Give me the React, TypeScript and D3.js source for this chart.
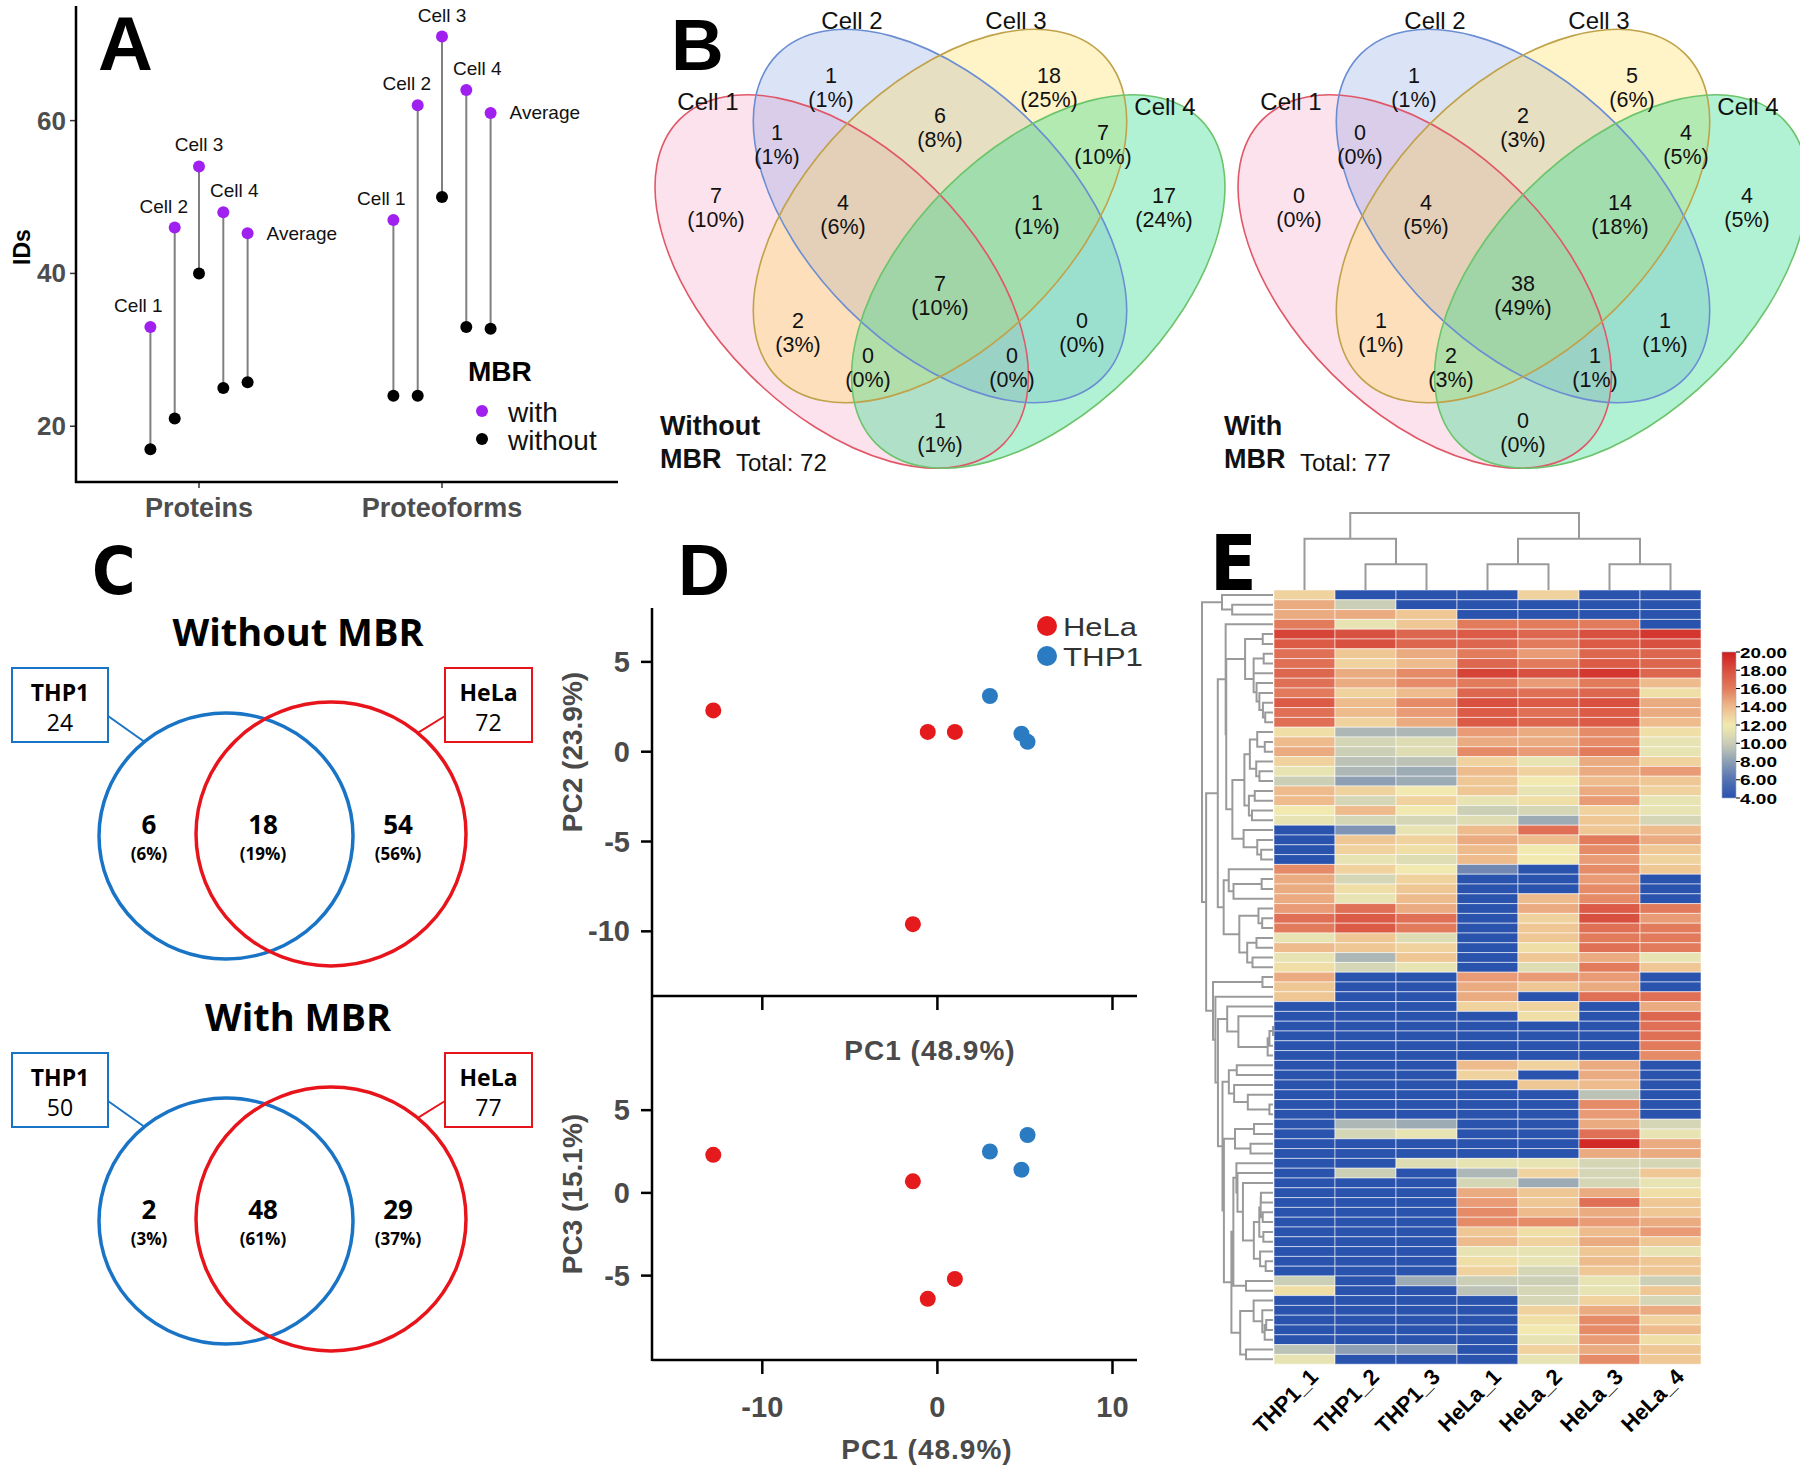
import React, { useMemo } from 'react';
import * as d3 from 'd3';

const W = 1800, H = 1470;
const ARIAL = "'Liberation Sans', Arial, Helvetica, sans-serif";
const OPEN = "'Open Sans', 'Noto Sans', 'DejaVu Sans', sans-serif";
const COND = "'DejaVu Sans Condensed', 'Liberation Sans Narrow', 'Liberation Sans', sans-serif";

// ---------------- Panel A data ----------------
const aCells = ['Cell 1', 'Cell 2', 'Cell 3', 'Cell 4', 'Average'];
const aTypes = ['Proteins', 'Proteoforms'];
const aWith = [[33, 46, 54, 48, 45.25], [47, 62, 71, 64, 61]];
const aWithout = [[17, 21, 40, 25, 25.75], [24, 24, 50, 33, 32.75]];
const aTicks = [20, 40, 60];
const aLegend = ['with', 'without'];

// ---------------- Panel B data ----------------
const bSets = ['Cell 1', 'Cell 2', 'Cell 3', 'Cell 4'];
const bRegions = ['1', '2', '3', '4', '12', '23', '34', '123', '234', '1234', '13', '134', '124', '24', '14'];
const bWithout = [7, 1, 18, 17, 1, 6, 7, 4, 1, 7, 2, 0, 0, 0, 1];
const bWith = [0, 1, 5, 4, 0, 2, 4, 4, 14, 38, 1, 2, 1, 1, 0];
const bTitles = ['Without', 'With'];

// ---------------- Panel C data ----------------
const cTitles = ['Without MBR', 'With MBR'];
const cTHP1Total = [24, 50];
const cHeLaTotal = [72, 77];
const cTHP1Only = [6, 2];
const cShared = [18, 48];
const cHeLaOnly = [54, 29];
const cTHP1OnlyPct = [6, 3];
const cSharedPct = [19, 61];
const cHeLaOnlyPct = [56, 37];

// ---------------- Panel D data ----------------
const dGroups = ['HeLa', 'HeLa', 'HeLa', 'HeLa', 'THP1', 'THP1', 'THP1'];
const dPC1 = [-12.8, -1.4, -0.55, 1.0, 3.0, 4.8, 5.15];
const dPC2 = [2.3, -9.6, 1.1, 1.1, 3.1, 1.0, 0.55];
const dPC3 = [2.3, 0.7, -6.4, -5.2, 2.5, 1.4, 3.5];
const dTicksX = [-10, 0, 10];
const dTicksTop = [5, 0, -5, -10];
const dTicksBot = [5, 0, -5];
const dLegend = ['HeLa', 'THP1'];

// ---------------- Panel E data ----------------
const eSamples = ['THP1_1', 'THP1_2', 'THP1_3', 'HeLa_1', 'HeLa_2', 'HeLa_3', 'HeLa_4'];
const eColTree: any = [[0, [1, 2]], [[3, 4], [5, 6]]];
const eLegendTicks = [20, 18, 16, 14, 12, 10, 8, 6, 4];
const eValues = [
  [13, 4, 4, 4, 13, 4, 4],
  [14.5, 10, 4, 4, 4, 4, 4],
  [14.5, 14.5, 13.5, 4, 4, 4, 4],
  [16, 11.5, 13.5, 16, 16, 16, 4],
  [18.5, 18, 17, 17.5, 17, 18, 19],
  [17.5, 18, 17, 17, 16, 17.5, 18],
  [16.5, 13.5, 14.5, 16, 15, 17, 17],
  [16.5, 13, 14, 17, 16, 17.5, 17],
  [17, 14.5, 15.5, 18.5, 18, 19, 17],
  [16.5, 14.5, 15.5, 16, 15, 16, 14],
  [16, 13, 14, 17, 16.5, 17, 12.5],
  [17.5, 14, 15.5, 18, 17.5, 18, 14.5],
  [16.5, 14, 15, 17.5, 16.5, 17.5, 14.5],
  [16.5, 13, 14.5, 17.5, 17, 17.5, 14],
  [12.5, 9, 9, 15, 14.5, 15.5, 12.5],
  [14, 10.5, 11, 14.5, 14.5, 15.5, 11.5],
  [14.5, 10, 11, 15.5, 15, 16, 11.5],
  [13, 9.5, 9.5, 13, 11.5, 14.5, 13],
  [11.5, 9, 8.5, 14, 13, 14.5, 15],
  [10, 8, 8.5, 13.5, 12, 14, 13.5],
  [14, 13, 12, 13.5, 11.5, 14.5, 13],
  [14, 10.5, 13, 11.5, 12.5, 15, 11.5],
  [12, 14, 12, 10, 10.5, 13, 11.5],
  [11.5, 10.5, 10.5, 11, 8.5, 13.5, 10.5],
  [4, 7.5, 11.5, 14, 16.5, 13.5, 14],
  [4, 13.5, 13, 14.5, 14, 16, 14.5],
  [4, 13, 12.5, 14, 12, 15.5, 13.5],
  [4, 11.5, 11, 14, 12, 15, 13],
  [15.5, 13, 12, 7, 4, 15.5, 13.5],
  [14.5, 10.5, 13, 4, 4, 15, 4],
  [14.5, 12.5, 13.5, 4, 4, 15.5, 4],
  [14.5, 11.5, 14, 4, 14, 15.5, 4],
  [15, 16.5, 14.5, 4, 14.5, 17.5, 16],
  [16.5, 17.5, 16.5, 4, 13, 18, 15],
  [16, 17.5, 16, 4, 13.5, 16.5, 16],
  [11.5, 13.5, 11, 4, 13.5, 16, 16],
  [14, 13.5, 13, 4, 12.5, 16.5, 16],
  [11.5, 9, 13.5, 4, 13.5, 14.5, 11.5],
  [12.5, 10.5, 11.5, 4, 11, 16, 13.5],
  [14.5, 4, 4, 15, 15, 15, 4],
  [13.5, 4, 4, 14.5, 13.5, 14.5, 4],
  [13.5, 4, 4, 14.5, 4, 16.5, 16.5],
  [4, 4, 4, 13, 13, 4, 14.5],
  [4, 4, 4, 4, 12.5, 4, 17],
  [4, 4, 4, 4, 4, 4, 16.5],
  [4, 4, 4, 4, 4, 4, 16.5],
  [4, 4, 4, 4, 4, 4, 16],
  [4, 4, 4, 4, 4, 4, 15.5],
  [4, 4, 4, 14, 13, 14.5, 4],
  [4, 4, 4, 13, 4, 14.5, 4],
  [4, 4, 4, 4, 13.5, 14, 4],
  [4, 4, 4, 4, 4, 9.5, 4],
  [4, 4, 4, 4, 4, 15.5, 4],
  [4, 4, 4, 4, 4, 15, 4],
  [4, 9, 8.5, 4, 4, 14.5, 10.5],
  [4, 10.5, 11.5, 4, 4, 16.5, 11.5],
  [4, 4, 4, 4, 4, 19.5, 14.5],
  [4, 4, 4, 4, 4, 14.5, 14.5],
  [4, 4, 11, 11.5, 11.5, 10.5, 10.5],
  [4, 10, 4, 9, 13, 10.5, 13.5],
  [4, 4, 4, 10.5, 8.5, 10.5, 11.5],
  [4, 4, 4, 14.5, 13.5, 14.5, 12.5],
  [4, 4, 4, 15, 13.5, 16.5, 13.5],
  [4, 4, 4, 15.5, 14, 14.5, 13.5],
  [4, 4, 4, 15.5, 15.5, 15, 14.5],
  [4, 4, 4, 13.5, 12.5, 14, 15],
  [4, 4, 4, 14, 13, 14.5, 13.5],
  [4, 4, 4, 11.5, 11.5, 13.5, 11.5],
  [4, 4, 4, 12.5, 11.5, 14, 13.5],
  [4, 4, 4, 13, 10.5, 13.5, 13.5],
  [10, 4, 8.5, 10, 10, 11.5, 10],
  [12.5, 4, 4, 9.5, 10.5, 11.5, 13.5],
  [4, 4, 4, 4, 10.5, 13, 10.5],
  [4, 4, 4, 4, 13, 14.5, 14.5],
  [4, 4, 4, 4, 12.5, 15.5, 13],
  [4, 4, 4, 4, 12, 15.5, 14],
  [4, 4, 4, 4, 11.5, 15, 12.5],
  [9.5, 8, 8, 4, 13, 14.5, 13.5],
  [11.5, 4, 4, 4, 11.5, 15.5, 13.5],
];

// ---------------- helpers ----------------
type RNode = { lo: number; hi: number; h: number; y: number; members: number[]; children?: RNode[] };

function clusterRows(data: number[][], yOf: (i: number) => number): RNode {
  const D = data.map(a => data.map(b => Math.sqrt(d3.sum(a.map((v, k) => (v - b[k]) ** 2)))));
  const nodes: RNode[] = data.map((_, i) => ({ lo: i, hi: i, h: 0, y: yOf(i), members: [i] }));
  const link = (A: RNode, B: RNode) => d3.mean(A.members.flatMap(i => B.members.map(j => D[i][j]))) as number;
  while (nodes.length > 1) {
    let best = 0, bestD = Infinity;
    for (let i = 0; i < nodes.length - 1; i++) {
      const d = link(nodes[i], nodes[i + 1]);
      if (d < bestD) { bestD = d; best = i; }
    }
    const A = nodes[best], B = nodes[best + 1];
    const N: RNode = { lo: A.lo, hi: B.hi, h: Math.max(bestD, A.h, B.h), y: (A.y + B.y) / 2, members: [...A.members, ...B.members], children: [A, B] };
    nodes.splice(best, 2, N);
  }
  return nodes[0];
}

function PanelA() {
  const yA = d3.scaleLinear().domain([12.7, 75]).range([482, 6]);
  const xA = d3.scalePoint<string>().domain(aTypes).range([199, 442]);
  const dA = d3.scalePoint<string>().domain(aCells).range([-48.6, 48.6]);
  const labelDx: Record<string, number> = { 'Cell 1': -12, 'Cell 2': -11, 'Cell 3': 0, 'Cell 4': 11 };
  const purple = '#a020f0';
  return (
    <g>
      <text x={98} y={70} fontFamily={ARIAL} fontWeight="bold" fontSize={76}>A</text>
      {aTicks.map(t => (
        <g key={t}>
          <line x1={70} x2={76} y1={yA(t)} y2={yA(t)} stroke="#333" strokeWidth={1.5} />
          <text x={66} y={yA(t)} textAnchor="end" dominantBaseline="central" fontFamily={ARIAL} fontWeight="bold" fontSize={26} fill="#4d4d4d">{t}</text>
        </g>
      ))}
      {aTypes.map(t => (
        <g key={t}>
          <line x1={xA(t)} x2={xA(t)} y1={482} y2={488} stroke="#333" strokeWidth={1.5} />
          <text x={xA(t)} y={508} textAnchor="middle" dominantBaseline="central" fontFamily={ARIAL} fontWeight="bold" fontSize={27} fill="#4d4d4d">{t}</text>
        </g>
      ))}
      <text transform="translate(22,247) rotate(-90)" textAnchor="middle" dominantBaseline="central" fontFamily={ARIAL} fontWeight="bold" fontSize={23}>IDs</text>
      {aTypes.map((t, i) => aCells.map((c, j) => {
        const x = (xA(t) as number) + (dA(c) as number);
        const yw = yA(aWith[i][j]), yo = yA(aWithout[i][j]);
        return (
          <g key={t + c}>
            <line x1={x} x2={x} y1={yw} y2={yo} stroke="#808080" strokeWidth={2} />
            <circle cx={x} cy={yw} r={6} fill={purple} />
            <circle cx={x} cy={yo} r={6} fill="#000" />
            {c === 'Average'
              ? <text x={x + 19} y={yw} dominantBaseline="central" fontFamily={ARIAL} fontSize={19} fill="#111">{c}</text>
              : <text x={x + labelDx[c]} y={yw - 15} textAnchor="middle" fontFamily={ARIAL} fontSize={19} fill="#111">{c}</text>}
          </g>
        );
      }))}
      <line x1={76} x2={76} y1={6} y2={483} stroke="#000" strokeWidth={2.5} />
      <line x1={75} x2={618} y1={482} y2={482} stroke="#000" strokeWidth={2.5} />
      <text x={468} y={371} dominantBaseline="central" fontFamily={ARIAL} fontWeight="bold" fontSize={28}>MBR</text>
      {aLegend.map((l, i) => (
        <g key={l}>
          <circle cx={482} cy={411 + i * 28} r={6} fill={i === 0 ? purple : '#000'} />
          <text x={508} y={412 + i * 28} dominantBaseline="central" fontFamily={ARIAL} fontSize={28} fill="#111">{l}</text>
        </g>
      ))}
    </g>
  );
}

const bFill = ['#f07aa8', '#6f8fe0', '#ffd84a', '#2fdc8a'];
const bFillOp = [0.22, 0.25, 0.3, 0.37];
const bStroke = ['#e05868', '#6b8ed2', '#c0a24a', '#6cc46c'];
const bLabelOff: Record<string, [number, number]> = {
  '1': [-224, -20], '2': [-109, -140], '3': [109, -140], '4': [224, -20],
  '12': [-163, -83], '23': [0, -100], '34': [163, -83],
  '123': [-97, -13], '234': [97, -13], '1234': [0, 68],
  '13': [-142, 105], '24': [142, 105], '134': [-72, 140], '124': [72, 140], '14': [0, 205],
};
const bSetLabelOff: [number, number][] = [[-232, -115], [-88, -196], [76, -196], [225, -110]];

function Venn4({ cx, cy, values, title, titleX }: { cx: number; cy: number; values: number[]; title: string; titleX: number }) {
  const U = 655;
  const a = 0.35 * U, b = 0.2 * U;
  const centers: [number, number, number][] = [
    [cx - 0.15 * U, cy + 0.1 * U, 45],
    [cx, cy, 45],
    [cx, cy, -45],
    [cx + 0.15 * U, cy + 0.1 * U, -45],
  ];
  const total = d3.sum(values);
  return (
    <g>
      {centers.map(([x, y, r], i) => (
        <ellipse key={'f' + i} cx={x} cy={y} rx={a} ry={b} transform={`rotate(${r} ${x} ${y})`} fill={bFill[i]} fillOpacity={bFillOp[i]} stroke="none" />
      ))}
      {centers.map(([x, y, r], i) => (
        <ellipse key={'s' + i} cx={x} cy={y} rx={a} ry={b} transform={`rotate(${r} ${x} ${y})`} fill="none" stroke={bStroke[i]} strokeWidth={1.6} />
      ))}
      {bSets.map((s, i) => (
        <text key={s} x={cx + bSetLabelOff[i][0]} y={cy + bSetLabelOff[i][1]} textAnchor="middle" dominantBaseline="central" fontFamily={ARIAL} fontSize={24} fill="#111">{s}</text>
      ))}
      {bRegions.map((r, i) => {
        const [dx, dy] = bLabelOff[r];
        return (
          <g key={r}>
            <text x={cx + dx} y={cy + dy} textAnchor="middle" dominantBaseline="central" fontFamily={ARIAL} fontSize={21.5} fill="#111">{values[i]}</text>
            <text x={cx + dx} y={cy + dy + 24} textAnchor="middle" dominantBaseline="central" fontFamily={ARIAL} fontSize={21.5} fill="#111">({Math.round(values[i] / total * 100)}%)</text>
          </g>
        );
      })}
      <text x={titleX} y={426} dominantBaseline="central" fontFamily={ARIAL} fontWeight="bold" fontSize={27} fill="#111">{title}</text>
      <text x={titleX} y={459} dominantBaseline="central" fontFamily={ARIAL} fontWeight="bold" fontSize={27} fill="#111">MBR</text>
      <text x={titleX + 76} y={462} dominantBaseline="central" fontFamily={ARIAL} fontSize={24} fill="#111">Total: {total}</text>
    </g>
  );
}

function PanelC() {
  const blue = '#1a74c6', red = '#e8141c';
  const bc = { x: 226, y: 836, rx: 127, ry: 123 };
  const rc = { x: 331, y: 834, rx: 135, ry: 132 };
  const onEll = (e: any, deg: number) => [e.x + e.rx * Math.cos(deg * Math.PI / 180), e.y + e.ry * Math.sin(deg * Math.PI / 180)];
  const bEnd = onEll(bc, -130), rEnd = onEll(rc, -50);
  return (
    <g>
      <text x={92} y={594} fontFamily={COND} fontWeight="bold" fontSize={66}>C</text>
      {cTitles.map((t, i) => {
        const oy = i * 385;
        const regions = [
          { x: 149, v: cTHP1Only[i], p: cTHP1OnlyPct[i] },
          { x: 263, v: cShared[i], p: cSharedPct[i] },
          { x: 398, v: cHeLaOnly[i], p: cHeLaOnlyPct[i] },
        ];
        return (
          <g key={t}>
            <text x={298} y={631 + oy} textAnchor="middle" dominantBaseline="central" fontFamily={OPEN} fontWeight="bold" fontSize={38} fill="#000">{t}</text>
            <ellipse cx={bc.x} cy={bc.y + oy} rx={bc.rx} ry={bc.ry} fill="none" stroke={blue} strokeWidth={3.5} />
            <ellipse cx={rc.x} cy={rc.y + oy} rx={rc.rx} ry={rc.ry} fill="none" stroke={red} strokeWidth={3.5} />
            <rect x={12} y={668 + oy} width={96} height={74} fill="#fff" stroke={blue} strokeWidth={2} />
            <line x1={108} y1={716 + oy} x2={bEnd[0]} y2={bEnd[1] + oy} stroke={blue} strokeWidth={2} />
            <text x={60} y={692 + oy} textAnchor="middle" dominantBaseline="central" fontFamily={OPEN} fontWeight="bold" fontSize={23}>THP1</text>
            <text x={60} y={722 + oy} textAnchor="middle" dominantBaseline="central" fontFamily={OPEN} fontSize={23}>{cTHP1Total[i]}</text>
            <rect x={445} y={668 + oy} width={87} height={74} fill="#fff" stroke={red} strokeWidth={2} />
            <line x1={445} y1={716 + oy} x2={rEnd[0]} y2={rEnd[1] + oy} stroke={red} strokeWidth={2} />
            <text x={488.5} y={692 + oy} textAnchor="middle" dominantBaseline="central" fontFamily={OPEN} fontWeight="bold" fontSize={23}>HeLa</text>
            <text x={488.5} y={722 + oy} textAnchor="middle" dominantBaseline="central" fontFamily={OPEN} fontSize={23}>{cHeLaTotal[i]}</text>
            {regions.map((r, k) => (
              <g key={k}>
                <text x={r.x} y={824 + oy} textAnchor="middle" dominantBaseline="central" fontFamily={OPEN} fontWeight="bold" fontSize={26}>{r.v}</text>
                <text x={r.x} y={853 + oy} textAnchor="middle" dominantBaseline="central" fontFamily={OPEN} fontWeight="bold" fontSize={17}>({r.p}%)</text>
              </g>
            ))}
          </g>
        );
      })}
    </g>
  );
}

function PanelD() {
  const x = d3.scaleLinear().domain([-16.3, 11.4]).range([652, 1137]);
  const yTop = d3.scaleLinear().domain([-13.6, 8.0]).range([996, 608]);
  const yBot = d3.scaleLinear().domain([-10.1, 11.9]).range([1360, 996]);
  const col = d3.scaleOrdinal<string, string>().domain(dLegend).range(['#e41a1c', '#2a7bc2']);
  const gray = '#4a4a4a';
  const tickFont = { fontFamily: ARIAL, fontWeight: 'bold' as const, fontSize: 29, fill: gray };
  const titleFont = { fontFamily: ARIAL, fontWeight: 'bold' as const, fontSize: 28, fill: gray };
  const legLen: Record<string, number> = { HeLa: 74, THP1: 80 };
  return (
    <g>
      <text x={678} y={595} fontFamily={ARIAL} fontWeight="bold" fontSize={72}>D</text>
      {dTicksTop.map(t => (
        <g key={'t' + t}>
          <line x1={641} x2={652} y1={yTop(t)} y2={yTop(t)} stroke="#000" strokeWidth={2.5} />
          <text x={630} y={yTop(t)} textAnchor="end" dominantBaseline="central" {...tickFont}>{t}</text>
        </g>
      ))}
      {dTicksX.map(t => (
        <line key={'tx' + t} x1={x(t)} x2={x(t)} y1={996} y2={1010} stroke="#000" strokeWidth={2.5} />
      ))}
      <text x={930} y={1050} textAnchor="middle" dominantBaseline="central" {...titleFont} letterSpacing={1}>PC1 (48.9%)</text>
      <text transform="translate(572,752) rotate(-90)" textAnchor="middle" dominantBaseline="central" {...titleFont}>PC2 (23.9%)</text>
      {dPC1.map((v, i) => (
        <circle key={'p' + i} cx={x(v)} cy={yTop(dPC2[i])} r={8} fill={col(dGroups[i])} />
      ))}
      {dTicksBot.map(t => (
        <g key={'b' + t}>
          <line x1={641} x2={652} y1={yBot(t)} y2={yBot(t)} stroke="#000" strokeWidth={2.5} />
          <text x={630} y={yBot(t)} textAnchor="end" dominantBaseline="central" {...tickFont}>{t}</text>
        </g>
      ))}
      {dTicksX.map(t => (
        <g key={'bx' + t}>
          <line x1={x(t)} x2={x(t)} y1={1360} y2={1374} stroke="#000" strokeWidth={2.5} />
          <text x={x(t)} y={1407} textAnchor="middle" dominantBaseline="central" {...tickFont}>{t}</text>
        </g>
      ))}
      <text x={927} y={1449} textAnchor="middle" dominantBaseline="central" {...titleFont} letterSpacing={1}>PC1 (48.9%)</text>
      <text transform="translate(572,1194) rotate(-90)" textAnchor="middle" dominantBaseline="central" {...titleFont}>PC3 (15.1%)</text>
      {dPC1.map((v, i) => (
        <circle key={'q' + i} cx={x(v)} cy={yBot(dPC3[i])} r={8} fill={col(dGroups[i])} />
      ))}
      <line x1={652} x2={652} y1={608} y2={1361} stroke="#000" strokeWidth={2.5} />
      <line x1={652} x2={1137} y1={996} y2={996} stroke="#000" strokeWidth={2.5} />
      <line x1={652} x2={1137} y1={1360} y2={1360} stroke="#000" strokeWidth={2.5} />
      {dLegend.map((g, i) => (
        <g key={g}>
          <circle cx={1047} cy={626 + i * 30} r={10} fill={col(g)} />
          <text x={1063} y={627 + i * 30} dominantBaseline="central" fontFamily={ARIAL} fontSize={25.5}
            textLength={legLen[g]} lengthAdjust="spacingAndGlyphs" fill="#333">{g}</text>
        </g>
      ))}
    </g>
  );
}

function PanelE() {
  const left = 1274, top = 590, rowH = 9.8, colW = 61;
  const nR = eValues.length;
  const xCol = d3.scaleBand<string>().domain(eSamples).range([left, left + colW * eSamples.length]);
  const yRow = d3.scaleBand<number>().domain(d3.range(nR)).range([top, top + rowH * nR]);
  const color = d3.scaleLinear<string>()
    .domain([4, 6, 8, 10, 12, 14, 16, 18, 20])
    .range(['#2a53ae', '#5371b2', '#8e9fb4', '#cbcfb6', '#f1e9b0', '#eebb8c', '#e27b5c', '#d8503f', '#cf1d1f'])
    .interpolate(d3.interpolateRgb);

  const root = useMemo(() => clusterRows(eValues, i => (yRow(i) as number) + rowH / 2), []);
  const xs = d3.scalePow().exponent(0.8).domain([0, root.h]).range([left - 1, 1202]);
  const segs: string[] = [];
  const walk = (n: RNode) => {
    if (!n.children) return;
    const xn = xs(n.h);
    const [A, B] = n.children;
    segs.push(`M${xs(A.h)},${A.y}H${xn}V${B.y}H${xs(B.h)}`);
    walk(A); walk(B);
  };
  walk(root);

  const yc = d3.scaleLinear().domain([0, 3]).range([top, 513]);
  const colSegs: string[] = [];
  const cwalk = (n: any): { x: number; h: number } => {
    if (typeof n === 'number') return { x: (xCol(eSamples[n]) as number) + colW / 2, h: 0 };
    const [a, b] = n.map(cwalk);
    const h = Math.max(a.h, b.h) + 1;
    colSegs.push(`M${a.x},${yc(a.h)}V${yc(h)}H${b.x}V${yc(b.h)}`);
    return { x: (a.x + b.x) / 2, h };
  };
  cwalk(eColTree);

  const legY = d3.scaleLinear().domain([4, 20]).range([798, 652]);
  const gradStops = d3.range(0, 1.0001, 0.05).map(t => ({ off: t, c: color(20 - t * 16) }));

  return (
    <g>
      <text x={1210} y={590} fontFamily={COND} fontWeight="bold" fontSize={76}>E</text>
      {eValues.map((row, i) => row.map((v, j) => (
        <rect key={i + '-' + j} x={xCol(eSamples[j])} y={yRow(i)} width={colW} height={rowH} fill={color(v)} stroke="rgba(255,255,255,0.55)" strokeWidth={1} />
      )))}
      <path d={segs.join('')} fill="none" stroke="#9a9a9a" strokeWidth={2} />
      <path d={colSegs.join('')} fill="none" stroke="#9a9a9a" strokeWidth={2} />
      {eSamples.map(s => {
        const cx = (xCol(s) as number) + colW / 2 + 15;
        return (
          <text key={s} transform={`translate(${cx},${1378}) rotate(-45)`} textAnchor="end" fontFamily={ARIAL} fontWeight="bold" fontSize={22} fill="#000">{s}</text>
        );
      })}
      <defs>
        <linearGradient id="ecbar" x1="0" y1="0" x2="0" y2="1">
          {gradStops.map((s, i) => <stop key={i} offset={s.off} stopColor={s.c} />)}
        </linearGradient>
      </defs>
      <rect x={1722} y={652} width={14} height={146} fill="url(#ecbar)" stroke="#9ab" strokeWidth={0.6} />
      {eLegendTicks.map(t => (
        <g key={t}>
          <line x1={1736} x2={1740} y1={legY(t)} y2={legY(t)} stroke="#000" strokeWidth={1} />
          <text x={1740} y={legY(t)} dominantBaseline="central" fontFamily={ARIAL} fontWeight="bold" fontSize={15.5}
            textLength={t >= 10 ? 47 : 37} lengthAdjust="spacingAndGlyphs" fill="#000">{t.toFixed(2)}</text>
        </g>
      ))}
    </g>
  );
}

export default function App() {
  return (
    <>
      <style>{'body{margin:0;background:#fff}'}</style>
      <svg width={W} height={H} viewBox={`0 0 ${W} ${H}`} style={{ display: 'block', background: '#fff' }}>
        <PanelA />
        <text x={671} y={70} fontFamily={ARIAL} fontWeight="bold" fontSize={73}>B</text>
        <Venn4 cx={940} cy={216} values={bWithout} title={bTitles[0]} titleX={660} />
        <Venn4 cx={1523} cy={216} values={bWith} title={bTitles[1]} titleX={1224} />
        <PanelC />
        <PanelD />
        <PanelE />
      </svg>
    </>
  );
}
